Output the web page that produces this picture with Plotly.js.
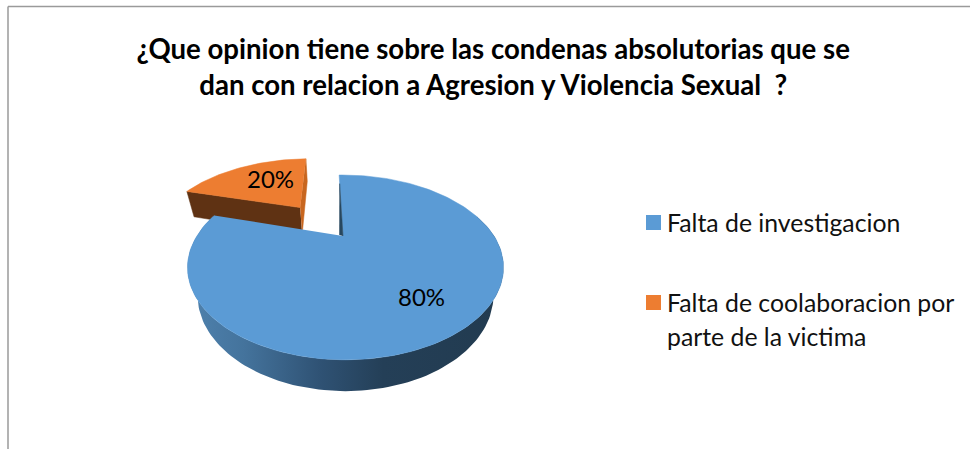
<!DOCTYPE html>
<html><head><meta charset="utf-8">
<script src="https://cdn.plot.ly/plotly-3.0.1.min.js"></script>
<style>html,body{margin:0;padding:0;background:#fff}#c{width:970px;height:449px}</style>
</head><body><div id="c"></div>
<script>
const categories = ["Falta de investigacion", "Falta de coolaboracion por<br>parte de la victima"];
const values = [80, 20];
const colors = ["#5b9bd5", "#ed7d31"];
const explode = [0, 0.5];
const titleText = "¿Que opinion tiene sobre las condenas absolutorias que se<br>dan con relacion a Agresion y Violencia Sexual  ?";

// perspective model of a tilted disc, in pixel-scaled axes
const P = {ax:343, ay:236, R:148.6, S:81.7, k:0.34, T:30, m:0.06, start:-2};
const FONT = "Lato, Carlito, sans-serif";
const rad = d => d*Math.PI/180;
function proj(u, v, low){
  const w = 1 + P.k*v + (low ? P.m : 0);
  return [P.ax + P.R*u/w, P.ay + (-P.S*v + (low ? P.T : 0))/w];
}
function pt(c, th, r, low){ return proj(c[0]+r*Math.sin(rad(th)), c[1]+r*Math.cos(rad(th)), low); }
function poly(pts, color, extra){
  return Object.assign({type:"scatter", mode:"lines", x:pts.map(p=>p[0]), y:pts.map(p=>p[1]),
    fill:"toself", fillcolor:color, line:{width:0.5, color:color}, hoverinfo:"skip", showlegend:false}, extra||{});
}
function arc(c, a, b, low, shift){
  const out = [], n = Math.ceil(Math.abs(b-a)/1.5);
  for (let i=0;i<=n;i++){
    const th = a+(b-a)*i/n, p = pt(c, th, 1, low);
    out.push([p[0]+(shift||0)*Math.min(1, 1-Math.cos(rad(th))), p[1]]);
  }
  return out;
}
const total = values.reduce((s,v)=>s+v,0);
let a0 = P.start;
const slices = values.map((v,i)=>{
  const a = a0, b = a0 + 360*v/total; a0 = b;
  const mid = rad((a+b)/2);
  return {a, b, c:[explode[i]*Math.sin(mid), explode[i]*Math.cos(mid)]};
});
const B = slices[0], O = slices[1];
const traces = [];
const oShift = -2.5, bShift = 2.5;
const nudge = (p,s) => [p[0]+s, p[1]];
// orange slice walls and top
traces.push(poly([pt(O.c,O.a,0,false),pt(O.c,O.a,1,false),pt(O.c,O.a,1,true),pt(O.c,O.a,0,true)].map(p=>nudge(p,oShift)), "#5f3213"));
traces.push(poly([pt(O.c,O.b,0,false),pt(O.c,O.b,1,false),pt(O.c,O.b,1,true),pt(O.c,O.b,0,true)].map(p=>nudge(p,oShift)), "#c8661f"));
traces.push(poly([pt(O.c,O.a,0,false)].concat(arc(O.c,O.a,O.b,false)).map(p=>nudge(p,oShift)), colors[1]));
// blue outer wall with a horizontal shade
traces.push(poly(arc(B.c,75,285,true,bShift).concat(arc(B.c,285,75,false,bShift)), "#2a4763", {
  fillgradient:{type:"horizontal", colorscale:[[0,"#4f82ae"],[0.18,"#44739c"],[0.42,"#2f5274"],[0.62,"#243f57"],[1,"#223b50"]]},
  line:{width:0}
}));
// blue top
traces.push(poly([pt(B.c,B.a,0,false)].concat(arc(B.c,B.a,B.b,false,bShift)), colors[0]));
// thin inner wall along the opening edge
const e1 = pt(B.c,B.a,0,false), e2 = pt(B.c,B.a,0.82,false);
traces.push(poly([e1, e2, [e1[0]-3.5, e1[1]-1]], "#27475f"));

// legend: square keys and left-aligned labels, placed as in the reference
const keyX = 653.5, textX = 668;
const keyY = [222.5, 302.5];
const lineGap = 34;
traces.push({type:"scatter", mode:"markers", x:categories.map(()=>keyX), y:keyY,
  marker:{symbol:"square", size:15, color:colors, line:{width:0}}, hoverinfo:"skip", showlegend:false});
const annotations = [
  {x:270, y:178, text:values[1]+"%", showarrow:false, font:{family:FONT, size:24, color:"#000"}},
  {x:421, y:296, text:values[0]+"%", showarrow:false, font:{family:FONT, size:24, color:"#000"}}
];
categories.forEach((name,i)=>name.split("<br>").forEach((line,j)=>annotations.push({
  x:textX, y:keyY[i]+j*lineGap, text:line, xanchor:"left", yanchor:"middle", align:"left", showarrow:false,
  xshift:-3, font:{family:FONT, size:24.8, color:"#111"}
})));

const layout = {
  width:970, height:449, margin:{l:0,r:0,t:0,b:0}, paper_bgcolor:"#fff", plot_bgcolor:"#fff", showlegend:false,
  xaxis:{range:[0,970], visible:false, fixedrange:true},
  yaxis:{range:[449,0], visible:false, fixedrange:true},
  title:{text:titleText, x:0.5085, xanchor:"center", y:0.868, yanchor:"middle", yref:"container",
    font:{family:FONT, size:27.6, color:"#000", weight:700}},
  annotations,
  shapes:[
    {type:"line", xref:"x", yref:"y", x0:8, x1:970, y0:6.5, y1:6.5, line:{color:"#9a9a9a", width:1.5}},
    {type:"line", xref:"x", yref:"y", x0:8, x1:8, y0:6.5, y1:449, line:{color:"#9a9a9a", width:1.5}}
  ]
};
Plotly.newPlot("c", traces, layout, {displayModeBar:false, staticPlot:true});
</script></body></html>
